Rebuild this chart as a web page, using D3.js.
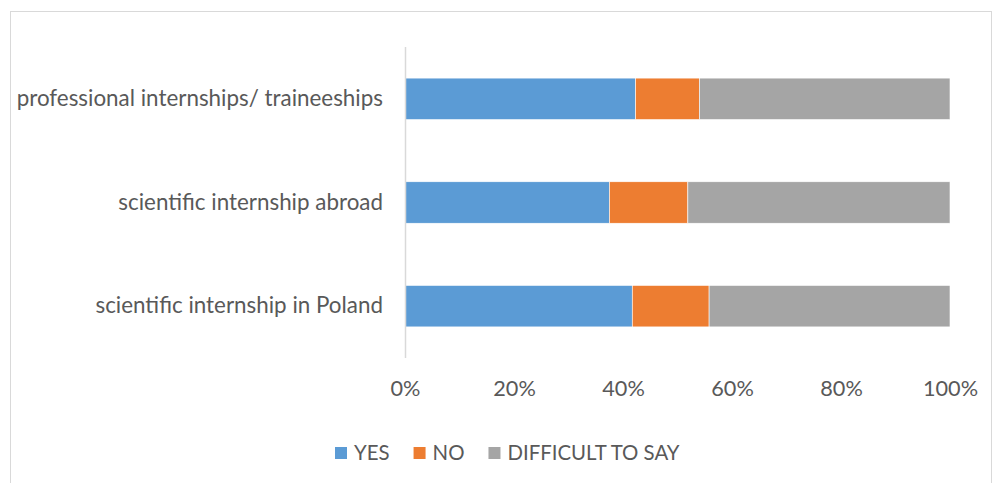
<!DOCTYPE html>
<html>
<head>
<meta charset="utf-8">
<script src="https://cdn.jsdelivr.net/npm/d3@7"></script>
<style>
  html, body { margin: 0; padding: 0; background: #fff; }
  svg { display: block; }
  text { font-family: Lato, "Open Sans", sans-serif; fill: #595959; }
</style>
</head>
<body>
<svg id="chart" width="994" height="483"></svg>
<script>
const categories = ["professional internships/ traineeships", "scientific internship abroad", "scientific internship in Poland"];
const seriesNames = ["YES", "NO", "DIFFICULT TO SAY"];
const yesValues = [42.3, 37.5, 41.7];
const noValues = [11.7, 14.4, 14.1];
const difficultValues = [46.0, 48.1, 44.2];
const tickValues = [0, 20, 40, 60, 80, 100];
const colors = ["#5B9BD5", "#ED7D31", "#A5A5A5"];

const svg = d3.select("#chart");

// outer frame
svg.append("rect").attr("x", 10.5).attr("y", 11.5).attr("width", 981).attr("height", 480)
  .attr("fill", "#fff").attr("stroke", "#D9D9D9").attr("stroke-width", 1);

const rows = categories.map((c, i) => ({ cat: c, YES: yesValues[i], NO: noValues[i], "DIFFICULT TO SAY": difficultValues[i] }));
const stack = d3.stack().keys(seriesNames)(rows);

const x = d3.scaleLinear().domain([0, 100]).range([405, 950]);
const y = d3.scaleBand().domain(categories).range([47, 358]).paddingInner(0.6).paddingOuter(0.3);
const color = d3.scaleOrdinal().domain(seriesNames).range(colors);

// bars
svg.append("g").selectAll("g").data(stack).join("g")
  .attr("fill", d => color(d.key))
  .selectAll("rect").data(d => d).join("rect")
  .attr("x", d => x(d[0]))
  .attr("y", d => y(d.data.cat))
  .attr("width", d => x(d[1]) - x(d[0]))
  .attr("height", y.bandwidth())
  .attr("stroke", "#fff").attr("stroke-width", 0.6);

// vertical category axis line
svg.append("line").attr("x1", 405.5).attr("x2", 405.5).attr("y1", 47).attr("y2", 358)
  .attr("stroke", "#D9D9D9").attr("stroke-width", 1.5);

// category labels
const yAxis = d3.axisLeft(y).tickSize(0).tickPadding(22);
const gy = svg.append("g").attr("transform", "translate(405,0)").call(yAxis);
gy.select(".domain").remove();
gy.selectAll("text").style("font-size", "22.4px").attr("fill", "#595959")
  .style("font-family", "Lato, sans-serif");

// x tick labels
const xAxis = d3.axisBottom(x).tickValues(tickValues).tickFormat(d => d + "%").tickSize(0).tickPadding(0);
const gx = svg.append("g").attr("transform", "translate(0,0)").call(xAxis);
gx.select(".domain").remove();
gx.selectAll("text").style("font-size", "21.7px").attr("fill", "#595959")
  .attr("y", 388.5).attr("dy", "0.35em")
  .style("font-family", "Lato, sans-serif");

// legend
const legend = svg.append("g");
let lx = 335;
seriesNames.forEach((name, i) => {
  legend.append("rect").attr("x", lx).attr("y", 447).attr("width", 12).attr("height", 12).attr("fill", colors[i]);
  const t = legend.append("text").attr("x", lx + 19).attr("y", 453).attr("dy", "0.35em")
    .style("font-size", "20.4px").text(name);
  const w = t.node().getComputedTextLength();
  lx = lx + 19 + w + 24;
});
</script>
</body>
</html>
